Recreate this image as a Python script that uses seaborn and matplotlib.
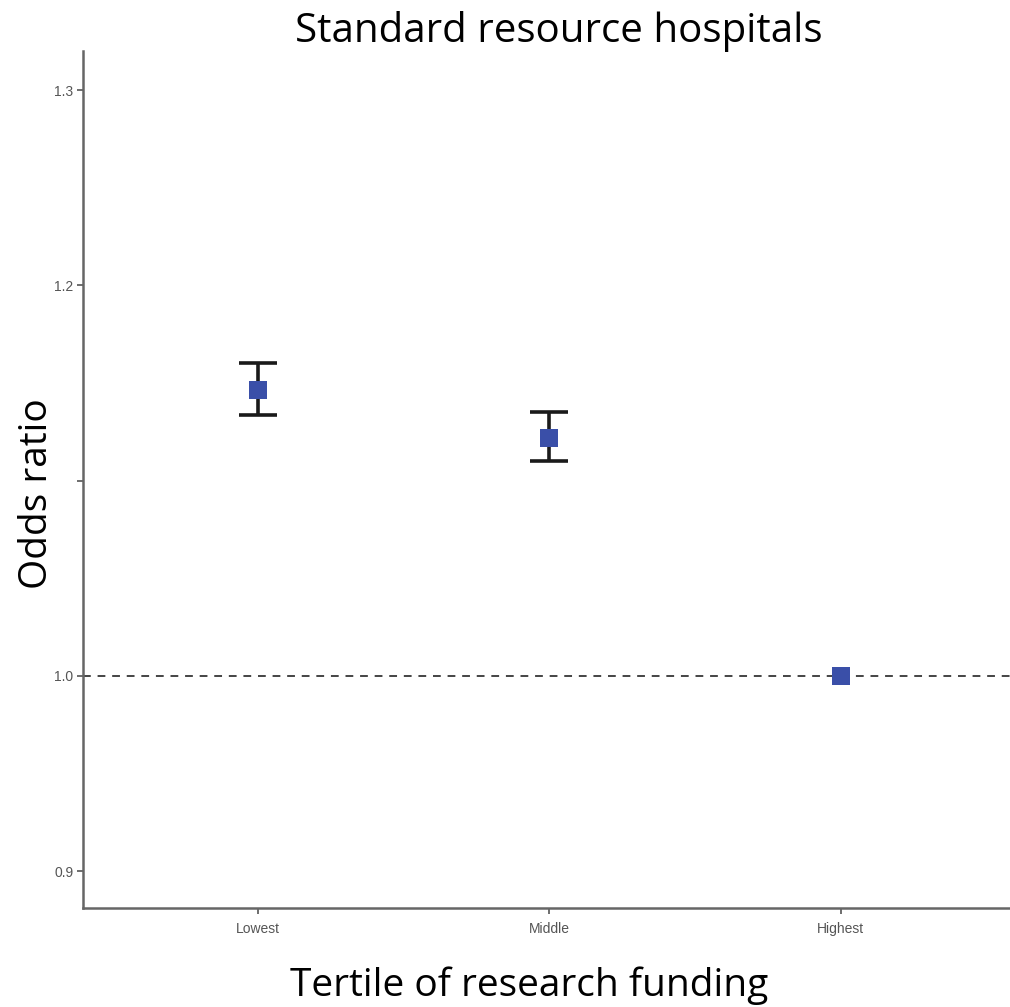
import matplotlib
matplotlib.use("Agg")
import matplotlib.pyplot as plt
import seaborn as sns
import pandas as pd

categories = ["Lowest", "Middle", "Highest"]
odds_ratio = [1.1463, 1.1219, 1.0]
ci_lower = [1.1335, 1.1100, 1.0]
ci_upper = [1.1600, 1.1349, 1.0]
has_ci = [True, True, False]
y_ticks = [0.9, 1.0, 1.1, 1.2, 1.3]
y_ticklabels = ["0.9", "1.0", "", "1.2", "1.3"]

sns.set_theme(style="white")
plt.rcParams["font.family"] = ["Open Sans", "DejaVu Sans"]

df = pd.DataFrame({"cat": categories, "or": odds_ratio,
                   "lo": ci_lower, "hi": ci_upper, "ci": has_ci})

fig = plt.figure(figsize=(10.1, 10.07), dpi=100)
ax = fig.add_axes([0.0822, 0.0983, 0.9178, 0.851])

xpos = list(range(len(categories)))
sub = df[df["ci"]]
ax.errorbar([xpos[i] for i in sub.index], sub["or"],
            yerr=[sub["or"] - sub["lo"], sub["hi"] - sub["or"]],
            fmt="none", ecolor="#1a1a1a", elinewidth=2.6, capsize=14,
            capthick=2.6, zorder=2)
ax.axhline(1.0, color="#444444", linestyle=(0, (4, 3.5)), linewidth=1.4, zorder=1)
sns.scatterplot(x=xpos, y=df["or"], marker="s", s=150, color="#3a4fa8",
                edgecolor="#3a4fa8", linewidth=0, ax=ax, zorder=3)

ax.set_xlim(-0.6, 2.58)
ax.set_ylim(0.8811, 1.32)
ax.set_xticks(xpos)
ax.set_xticklabels(categories)
ax.set_yticks(y_ticks)
ax.set_yticklabels(y_ticklabels)
ax.tick_params(axis="both", which="both", length=4, width=1.2, color="#555555",
               labelsize=10, labelcolor="#555555", pad=3, direction="out")
ax.tick_params(axis="x", pad=6)
for t in ax.get_xticklabels() + ax.get_yticklabels():
    t.set_family(["Liberation Sans", "DejaVu Sans"])
ax.xaxis.set_ticks_position("bottom")
ax.yaxis.set_ticks_position("left")
for side in ["top", "right"]:
    ax.spines[side].set_visible(False)
for side in ["left", "bottom"]:
    ax.spines[side].set_color("#666666")
    ax.spines[side].set_linewidth(1.8)
ax.set_xlabel("")
ax.set_ylabel("")

fig.text(559 / 1010, 1 - 31 / 1007, "Standard resource hospitals", ha="center",
         va="center", fontsize=29, color="black")
fig.text(37 / 1010, 1 - 494 / 1007, "Odds ratio", ha="center", va="center",
         rotation=90, fontsize=28, color="black")
fig.text(529 / 1010, 1 - 986 / 1007, "Tertile of research funding", ha="center",
         va="center", fontsize=28, color="black")

fig.savefig("out.png", dpi=100, facecolor="white")
